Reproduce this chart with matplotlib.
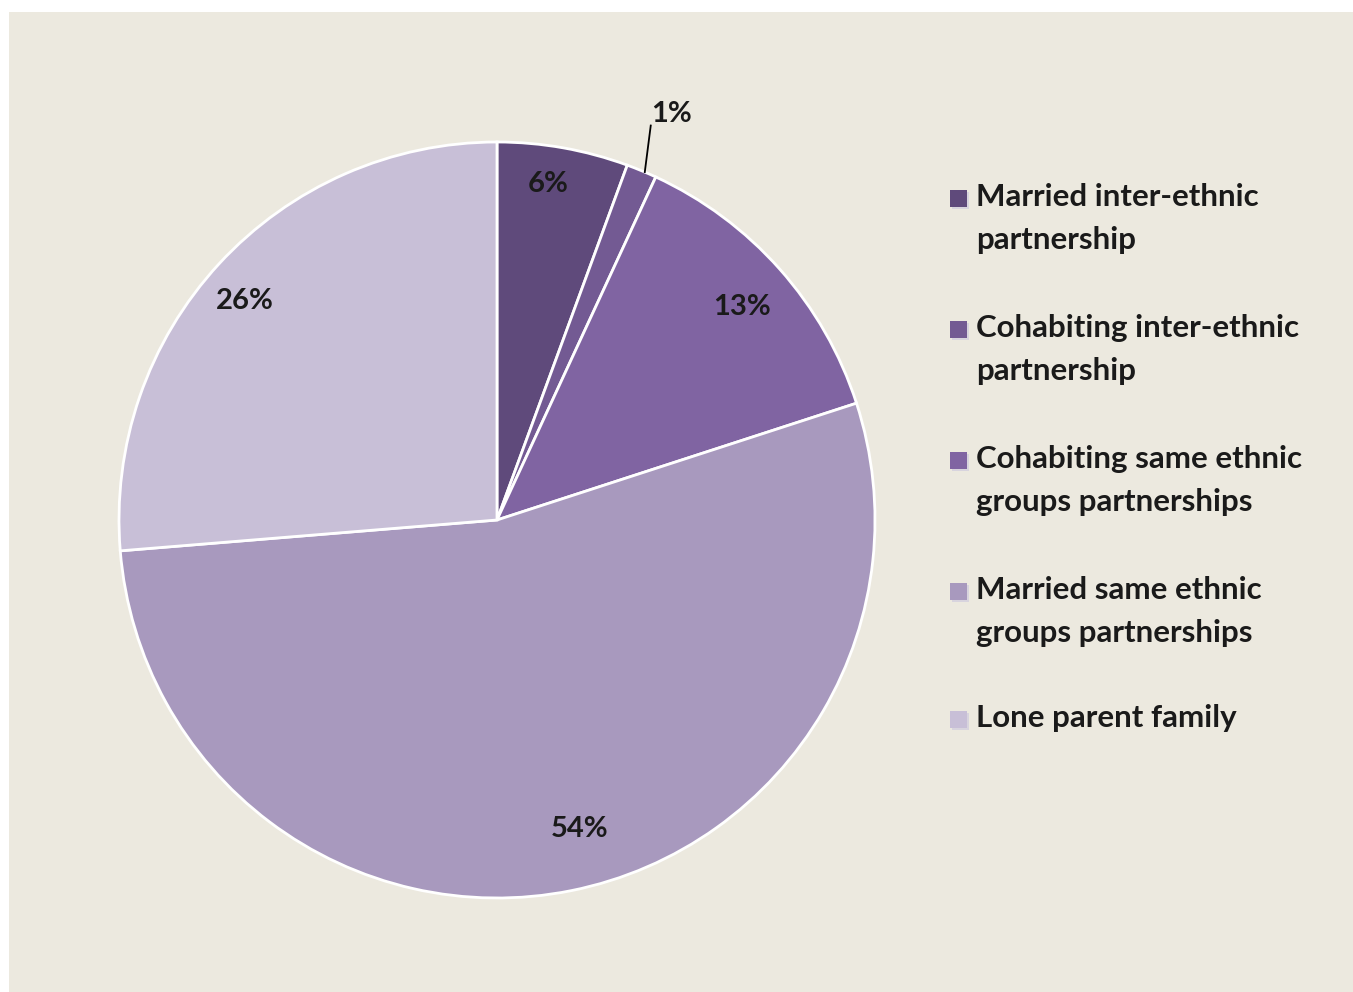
import numpy as np
import matplotlib
matplotlib.use("Agg")
import matplotlib.pyplot as plt
import matplotlib.patches as mpatches

plt.rcParams["font.family"] = ["Lato", "DejaVu Sans"]

# ── data ─────────────────────────────────────────────
categories = [
    "Married inter-ethnic\npartnership",
    "Cohabiting inter-ethnic\npartnership",
    "Cohabiting same ethnic\ngroups partnerships",
    "Married same ethnic\ngroups partnerships",
    "Lone parent family",
]
shares = [5.6, 1.3, 13.1, 53.7, 26.3]
pct_labels = ["6%", "1%", "13%", "54%", "26%"]
colors = ["#5f4a7b", "#735a93", "#8064a2", "#a899be", "#c8bfd7"]

# label placement (radius fraction, angle offset in degrees) -- style only
lab_dist = [0.90, 1.17, 0.86, 0.845, 0.885]
lab_off = [-1.5, 0.8, 0.6, -3.6, -1.7]

BG = "#ece9df"

W, H = 1353, 992
fig = plt.figure(figsize=(W / 100, H / 100), dpi=100)
fig.patch.set_facecolor("white")
# beige chart area (white strip at top/left like the source)
fig.add_artist(mpatches.Rectangle((9 / W, 0), 1, 1 - 12 / H,
                                  transform=fig.transFigure,
                                  facecolor=BG, edgecolor="none", zorder=0))

cx, cy, r = 497, 520, 378
ax = fig.add_axes([(cx - r) / W, (H - cy - r) / H, 2 * r / W, 2 * r / H])
ax.set_facecolor("none")

wedges, _ = ax.pie(shares, colors=colors, startangle=90, counterclock=False,
                   wedgeprops=dict(edgecolor="white", linewidth=2))
ax.set_xlim(-1, 1)
ax.set_ylim(-1, 1)
ax.set_aspect("auto")
ax.axis("off")

# percentage labels
total = sum(shares)
cum = 0
for v, lab, d, off in zip(shares, pct_labels, lab_dist, lab_off):
    mid = (cum + v / 2) / total
    cum += v
    ang = np.deg2rad(90 - mid * 360 - off)
    if d > 1:
        # outside label with a leader line
        a0, a1 = ang + 0.005, ang + 0.035
        ax.plot([np.cos(a0), 1.12 * np.cos(a1)],
                [np.sin(a0), 1.12 * np.sin(a1)],
                color="black", lw=1.3, clip_on=False)
    ax.text(d * np.cos(ang), d * np.sin(ang), lab, ha="center",
            va="center", fontsize=21, fontweight="bold", color="#1a1a1a",
            clip_on=False)

# legend drawn by hand
leg_y = [197, 328, 459, 590, 718]
for lab, col, y in zip(categories, colors, leg_y):
    fig.add_artist(mpatches.Rectangle(((950 + 2) / W, (H - y - 10 - 2) / H),
                                      17 / W, 17 / H,
                                      transform=fig.transFigure,
                                      facecolor="#d8d4de", edgecolor="none"))
    fig.add_artist(mpatches.Rectangle((950 / W, (H - y - 10) / H),
                                      17 / W, 17 / H,
                                      transform=fig.transFigure,
                                      facecolor=col, edgecolor="none"))
    fig.text(976 / W, (H - y + 14) / H, lab, ha="left", va="top",
             fontsize=22.5, fontweight="bold", color="#1a1a1a",
             linespacing=1.66)

fig.savefig("out.png", dpi=100, facecolor=fig.get_facecolor())
